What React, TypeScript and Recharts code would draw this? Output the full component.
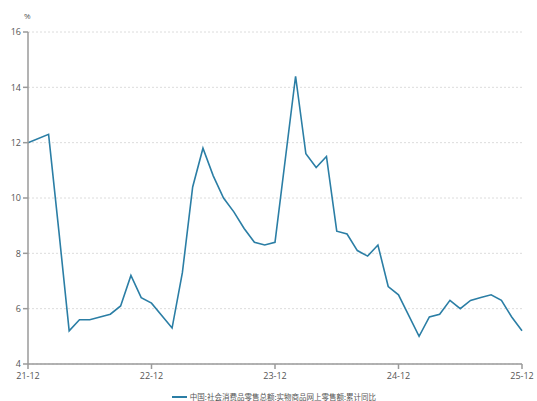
import { LineChart, Line, XAxis, YAxis, CartesianGrid, Legend } from 'recharts'

// months (yy-mm), Jan is merged into Feb in the cumulative series
const MONTHS = [
  '21-12',
  '22-02', '22-03', '22-04', '22-05', '22-06', '22-07', '22-08', '22-09', '22-10', '22-11', '22-12',
  '23-02', '23-03', '23-04', '23-05', '23-06', '23-07', '23-08', '23-09', '23-10', '23-11', '23-12',
  '24-02', '24-03', '24-04', '24-05', '24-06', '24-07', '24-08', '24-09', '24-10', '24-11', '24-12',
  '25-02', '25-03', '25-04', '25-05', '25-06', '25-07', '25-08', '25-09', '25-10', '25-11', '25-12',
]

const YOY = [
  12.0,
  12.3, 8.8, 5.2, 5.6, 5.6, 5.7, 5.8, 6.1, 7.2, 6.4, 6.2,
  5.3, 7.3, 10.4, 11.8, 10.8, 10.0, 9.5, 8.9, 8.4, 8.3, 8.4,
  14.4, 11.6, 11.1, 11.5, 8.8, 8.7, 8.1, 7.9, 8.3, 6.8, 6.5,
  5.0, 5.7, 5.8, 6.3, 6.0, 6.3, 6.4, 6.5, 6.3, 5.7, 5.2,
]

const X_TICK_LABELS = ['21-12', '22-12', '23-12', '24-12', '25-12']
const Y_TICKS = [4, 6, 8, 10, 12, 14, 16]

const SERIES_NAME = '中国:社会消费品零售总额:实物商品网上零售额:累计同比'
const LINE_COLOR = '#2b7ea5'
const AXIS_COLOR = '#9a9a9a'
const TEXT_COLOR = '#555'

// months counted from 21-12
function monthIndex(label: string): number {
  const [yy, mm] = label.split('-').map(Number)
  return (yy - 21) * 12 + (mm - 12)
}

const data = MONTHS.map((m, i) => ({ t: monthIndex(m), label: m, value: YOY[i] }))
const xTicks = X_TICK_LABELS.map(monthIndex)
const tickLabelByIndex = new Map(X_TICK_LABELS.map((l) => [monthIndex(l), l]))

function LegendContent() {
  return (
    <div style={{ display: 'flex', justifyContent: 'center', alignItems: 'center', height: 17, paddingTop: 4, paddingLeft: 26 }}>
      <span style={{ display: 'inline-block', width: 15, height: 2, background: LINE_COLOR, marginRight: 3 }} />
      <span style={{ fontSize: 7.5, color: TEXT_COLOR, fontFamily: '"Noto Sans CJK SC", sans-serif' }}>
        {SERIES_NAME}
      </span>
    </div>
  )
}

export default function App() {
  const tickStyle = { fill: TEXT_COLOR, fontSize: 9, fontFamily: '"Open Sans", sans-serif' }
  return (
    <div style={{ position: 'absolute', left: 0, top: 0, width: 537, height: 401, background: '#fff' }}>
      <div
        style={{
          position: 'absolute', left: 24, top: 10, fontSize: 8, color: TEXT_COLOR,
          fontFamily: '"Open Sans", sans-serif',
        }}
      >
        %
      </div>
      <LineChart width={537} height={401} data={data} margin={{ top: 32, right: 15, bottom: 0, left: 0 }}>
        <CartesianGrid vertical={false} strokeDasharray="2 2" stroke="#dcdcdc" />
        <XAxis
          dataKey="t"
          type="number"
          domain={[0, 48]}
          ticks={xTicks}
          tickFormatter={(v: number) => tickLabelByIndex.get(v) ?? ''}
          height={20}
          tickSize={5}
          tickMargin={4}
          stroke={AXIS_COLOR}
          strokeWidth={1.5}
          tick={tickStyle}
          interval={0}
        />
        <YAxis
          type="number"
          domain={[4, 16]}
          ticks={Y_TICKS}
          width={28}
          tickSize={5}
          tickMargin={2}
          stroke={AXIS_COLOR}
          strokeWidth={1.5}
          tick={tickStyle}
          interval={0}
        />
        <Legend verticalAlign="bottom" height={17} content={<LegendContent />} />
        <Line
          type="linear"
          dataKey="value"
          name={SERIES_NAME}
          stroke={LINE_COLOR}
          strokeWidth={1.6}
          dot={false}
          isAnimationActive={false}
        />
      </LineChart>
    </div>
  )
}
